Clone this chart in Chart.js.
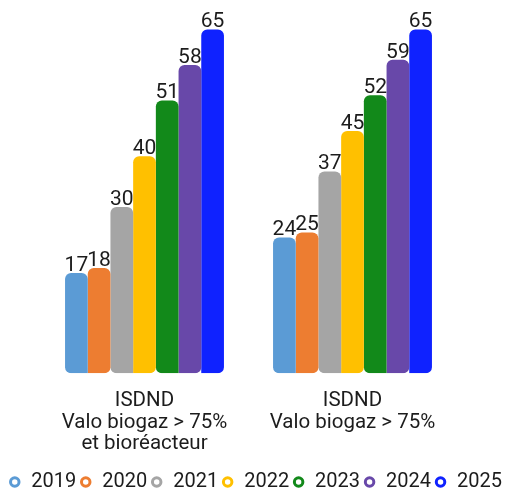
<!DOCTYPE html>
<html>
<head>
<meta charset="utf-8">
<script src="https://cdn.jsdelivr.net/npm/chart.js@4"></script>
<style>
  body { margin: 0; background: #fff; }
  #wrap { width: 505px; height: 491px; }
</style>
</head>
<body>
<div id="wrap"><canvas id="chart"></canvas></div>
<script>
// Categories (multi-line axis labels)
const categories = [
    ['ISDND', 'Valo biogaz > 75%', 'et bioréacteur'],
    ['ISDND', 'Valo biogaz > 75%']
];

// One series per year
const years = ['2019', '2020', '2021', '2022', '2023', '2024', '2025'];
const values2019 = [17, 24];
const values2020 = [18, 25];
const values2021 = [30, 37];
const values2022 = [40, 45];
const values2023 = [51, 52];
const values2024 = [58, 59];
const values2025 = [65, 65];

const seriesValues = [values2019, values2020, values2021, values2022, values2023, values2024, values2025];
const colors = ['#5b9bd5', '#ed7d31', '#a5a5a5', '#ffc000', '#12891a', '#6848a9', '#0f22ff'];

const textColor = '#1c1c1c';
const fontFamily = 'Roboto, sans-serif';
const yMin = -2.76;

// Bottom corners are rounded in pairs
function radiusFor(i) {
    const r = 6;
    const left = (i % 2 === 0 && i !== 6) ? r : 0;
    const right = (i % 2 === 1 || i === 6) ? r : 0;
    return { topLeft: r, topRight: r, bottomLeft: left, bottomRight: right };
}

const datasets = years.map((year, i) => ({
    label: year,
    data: seriesValues[i],
    backgroundColor: colors[i],
    borderColor: colors[i],
    borderWidth: 0,
    borderRadius: radiusFor(i),
    borderSkipped: false,
    base: yMin,
    pointStyle: 'circle',
    categoryPercentage: 0.764,
    barPercentage: 1
}));

// Value labels above each bar
const valueLabels = {
    id: 'valueLabels',
    afterDatasetsDraw(chart) {
        const ctx = chart.ctx;
        ctx.save();
        ctx.font = '21px ' + fontFamily;
        ctx.fillStyle = textColor;
        ctx.textAlign = 'center';
        ctx.textBaseline = 'alphabetic';
        chart.data.datasets.forEach((ds, di) => {
            const meta = chart.getDatasetMeta(di);
            meta.data.forEach((bar, j) => {
                ctx.fillText(String(ds.data[j]), bar.x, bar.y - 2);
            });
        });
        ctx.restore();
    }
};

new Chart(document.getElementById('chart'), {
    type: 'bar',
    data: { labels: categories, datasets },
    options: {
        responsive: true,
        maintainAspectRatio: false,
        animation: false,
        layout: { padding: { top: 4, bottom: 0, left: 0, right: 0 } },
        plugins: {
            tooltip: { enabled: false },
            legend: {
                position: 'bottom',
                align: 'end',
                maxHeight: 22,
                labels: {
                    usePointStyle: true,
                    boxWidth: 13,
                    boxHeight: 6,
                    padding: 3,
                    color: textColor,
                    font: { family: fontFamily, size: 20 },
                    generateLabels(chart) {
                        const items = Chart.defaults.plugins.legend.labels.generateLabels(chart);
                        items.forEach((item, i) => {
                            item.fillStyle = '#ffffff';
                            item.strokeStyle = colors[i];
                            item.lineWidth = 3;
                            item.pointStyle = 'circle';
                        });
                        return items;
                    }
                }
            }
        },
        scales: {
            x: {
                grid: { display: false, drawTicks: false, tickLength: 0 },
                border: { display: false },
                ticks: {
                    color: textColor,
                    padding: 17,
                    maxRotation: 0,
                    autoSkip: false,
                    font: { family: fontFamily, size: 20.5, lineHeight: 1.05 }
                },
                afterFit(scale) { scale.height = 95.7; }
            },
            y: {
                min: yMin,
                max: 70,
                grid: { display: false, drawTicks: false },
                border: { display: false },
                ticks: { display: false },
                afterFit(scale) { scale.width = 40.5; }
            },
            yRight: {
                position: 'right',
                grid: { display: false, drawTicks: false },
                border: { display: false },
                ticks: { display: false },
                afterFit(scale) { scale.width = 48.5; }
            }
        }
    },
    plugins: [valueLabels]
});
</script>
</body>
</html>
